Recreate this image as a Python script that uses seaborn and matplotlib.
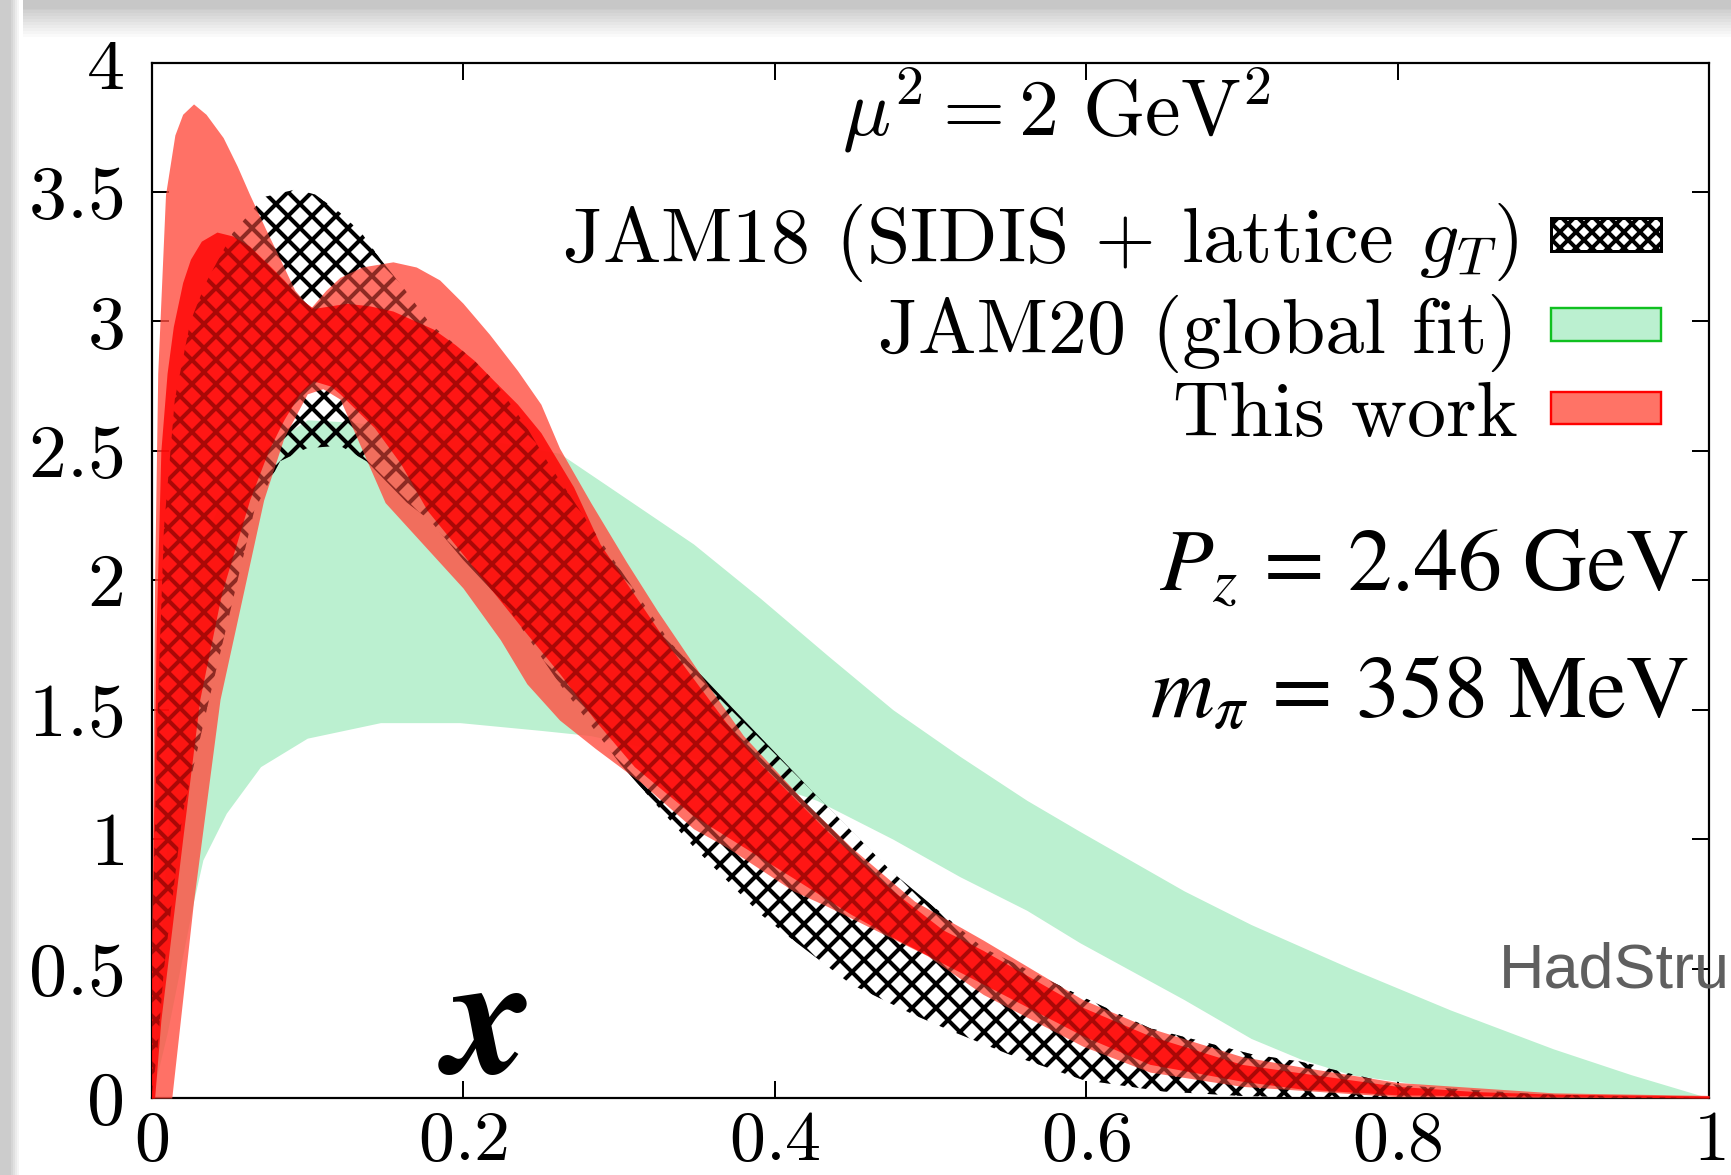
import numpy as np
import pandas as pd
import matplotlib
matplotlib.use("Agg")
import matplotlib.pyplot as plt
from matplotlib.patches import Patch, Rectangle
import seaborn as sns

# ---- JAM20 (global fit), green band
jam20_hi_x = [0, 0.01, 0.02, 0.027, 0.033, 0.048, 0.07, 0.1, 0.13, 0.198, 0.262, 0.294,
              0.348, 0.391, 0.434, 0.476, 0.519, 0.562, 0.596, 0.663, 0.706, 0.738, 0.77,
              0.834, 0.9, 0.95, 1.0]
jam20_hi = [0, 1.0, 1.7, 2.0, 2.15, 2.35, 2.5, 2.62, 2.61, 2.56, 2.49, 2.36,
            2.14, 1.93, 1.71, 1.50, 1.32, 1.15, 1.03, 0.80, 0.67, 0.585, 0.50,
            0.34, 0.19, 0.09, 0.0]
jam20_lo_x = [0, 0.01, 0.02, 0.027, 0.033, 0.048, 0.07, 0.1, 0.147, 0.198, 0.25, 0.282,
              0.35, 0.427, 0.476, 0.519, 0.562, 0.596, 0.663, 0.706, 0.738, 0.77, 0.834,
              0.9, 0.95, 1.0]
jam20_lo = [0, 0.25, 0.55, 0.76, 0.92, 1.10, 1.28, 1.39, 1.45, 1.45, 1.42, 1.40,
            1.31, 1.15, 1.0, 0.855, 0.725, 0.60, 0.38, 0.23, 0.15, 0.09, 0.035,
            0.01, 0.003, 0]

# ---- JAM18 (SIDIS + lattice gT), hatched band
jam18_hi_x = [0, 0.004, 0.008, 0.015, 0.025, 0.035, 0.052, 0.072, 0.093, 0.105, 0.121, 0.135,
              0.147, 0.163, 0.179, 0.195, 0.207, 0.22, 0.24, 0.255, 0.284, 0.333, 0.374,
              0.425, 0.476, 0.534, 0.598, 0.641, 0.706, 0.738, 0.8, 0.89, 0.95, 1.0]
jam18_hi = [0.5, 1.5, 2.2, 2.7, 3.0, 3.15, 3.34, 3.48, 3.51, 3.49, 3.42, 3.34,
            3.24, 3.12, 2.99, 2.91, 2.85, 2.77, 2.6, 2.45, 2.19, 1.76, 1.50,
            1.18, 0.87, 0.58, 0.39, 0.27, 0.17, 0.14, 0.05, 0.015, 0.005, 0]
jam18_lo_x = [0, 0.004, 0.008, 0.02, 0.037, 0.066, 0.0826, 0.0997, 0.121, 0.138, 0.164, 0.179,
              0.2, 0.228, 0.262, 0.301, 0.348, 0.391, 0.412, 0.449, 0.49, 0.513, 0.55, 0.598,
              0.65, 0.7, 0.75, 1.0]
jam18_lo = [0, 0.2, 0.5, 1.1, 1.54, 2.27, 2.46, 2.51, 2.52, 2.46, 2.30, 2.23,
            2.08, 1.90, 1.60, 1.29, 0.97, 0.71, 0.61, 0.44, 0.32, 0.26, 0.17, 0.07,
            0.025, 0.008, 0, 0]

# ---- This work: outer (light) band
outer_hi_x = [0, 0.002, 0.004, 0.009, 0.015, 0.02, 0.027, 0.035, 0.046, 0.055, 0.063, 0.073,
              0.0826, 0.092, 0.102, 0.112, 0.121, 0.135, 0.155, 0.17, 0.185, 0.2, 0.217, 0.235,
              0.25, 0.262, 0.282, 0.305, 0.325, 0.352, 0.38, 0.42, 0.449, 0.49, 0.534, 0.598,
              0.641, 0.7, 0.738, 0.8, 0.9, 1.0]
outer_hi = [0.5, 2.0, 2.8, 3.49, 3.72, 3.8, 3.84, 3.8, 3.71, 3.6, 3.49, 3.36,
            3.24, 3.12, 3.05, 3.12, 3.17, 3.21, 3.23, 3.21, 3.16, 3.07, 2.95, 2.81,
            2.68, 2.51, 2.30, 2.07, 1.88, 1.64, 1.40, 1.14, 0.97, 0.76, 0.61, 0.38,
            0.27, 0.16, 0.12, 0.06, 0.02, 0.01]
outer_lo_x = [0, 0.013, 0.0235, 0.027, 0.044, 0.072, 0.085, 0.1, 0.11, 0.121, 0.15, 0.2,
              0.224, 0.241, 0.262, 0.285, 0.314, 0.348, 0.369, 0.412, 0.434, 0.498, 0.534,
              0.598, 0.641, 0.7, 0.8, 1.0]
outer_lo = [0, 0, 0.57, 0.76, 1.54, 2.31, 2.55, 2.72, 2.74, 2.70, 2.3, 1.97,
            1.77, 1.60, 1.46, 1.35, 1.22, 1.04, 0.97, 0.80, 0.74, 0.55, 0.40,
            0.20, 0.10, 0.045, 0.005, 0]

# ---- This work: inner (red) band
inner_hi_x = [0, 0.003, 0.006, 0.01, 0.014, 0.02, 0.025, 0.032, 0.042, 0.052, 0.063, 0.075,
              0.085, 0.095, 0.104, 0.115, 0.125, 0.14, 0.155, 0.17, 0.181, 0.195, 0.207, 0.22,
              0.235, 0.25, 0.271, 0.288, 0.333, 0.369, 0.391, 0.434, 0.476, 0.508, 0.534,
              0.598, 0.641, 0.7, 0.738, 0.8, 0.85, 0.9, 1.0]
inner_hi = [0.5, 1.8, 2.5, 2.8, 2.98, 3.15, 3.24, 3.31, 3.345, 3.33, 3.29, 3.22,
            3.16, 3.09, 3.05, 3.06, 3.07, 3.06, 3.04, 3.0, 2.97, 2.91, 2.85, 2.77,
            2.68, 2.57, 2.36, 2.14, 1.74, 1.45, 1.29, 1.03, 0.80, 0.65, 0.57,
            0.35, 0.24, 0.13, 0.097, 0.045, 0.025, 0.015, 0.008]
inner_lo_x = [0, 0.002, 0.006, 0.012, 0.02, 0.031, 0.045, 0.063, 0.075, 0.085, 0.095, 0.104,
              0.115, 0.121, 0.143, 0.16, 0.177, 0.2, 0.224, 0.24, 0.262, 0.286, 0.31, 0.348,
              0.38, 0.412, 0.449, 0.476, 0.534, 0.598, 0.641, 0.7, 0.738, 0.8, 1.0]
inner_lo = [0, 0, 0.3, 0.6, 1.0, 1.54, 1.95, 2.31, 2.5, 2.62, 2.72, 2.77,
            2.75, 2.72, 2.59, 2.45, 2.27, 2.1, 1.92, 1.80, 1.64, 1.45, 1.28, 1.09,
            0.97, 0.85, 0.71, 0.62, 0.44, 0.24, 0.13, 0.065, 0.035, 0.012, 0.0]

x_ticks = [0, 0.2, 0.4, 0.6, 0.8, 1.0]
x_labels = ["0", "0.2", "0.4", "0.6", "0.8", "1"]
y_ticks = [0, 0.5, 1, 1.5, 2, 2.5, 3, 3.5, 4]
y_labels = ["0", "0.5", "1", "1.5", "2", "2.5", "3", "3.5", "4"]

legend_labels = [r"JAM18 (SIDIS + lattice $g_T$)", "JAM20 (global fit)", "This work"]

GREEN = "#bbf0d0"
SALMON = (1.0, 0.30, 0.25)
RED = (1.0, 0.0, 0.0)

sns.set_theme(style="ticks")
plt.rcParams["font.family"] = ["cmr10", "DejaVu Serif"]
plt.rcParams["mathtext.fontset"] = "cm"
plt.rcParams["axes.formatter.use_mathtext"] = True
plt.rcParams["hatch.linewidth"] = 2.0
plt.rcParams["text.color"] = "black"

def band(lo_x, lo, hi_x, hi):
    # put both edges on one grid made of their own read-off points
    grid = np.unique(np.concatenate([lo_x, hi_x]))
    return pd.DataFrame({"x": grid,
                         "lo": np.interp(grid, lo_x, lo),
                         "hi": np.interp(grid, hi_x, hi)})

jam20 = band(jam20_lo_x, jam20_lo, jam20_hi_x, jam20_hi)
jam18 = band(jam18_lo_x, jam18_lo, jam18_hi_x, jam18_hi)
outer = band(outer_lo_x, outer_lo, outer_hi_x, outer_hi)
inner = band(inner_lo_x, inner_lo, inner_hi_x, inner_hi)

dpi = 144
fig = plt.figure(figsize=(1731 / dpi, 1175 / dpi), dpi=dpi)
fig.patch.set_facecolor("white")
ax = fig.add_axes([151.5 / 1731, 1 - 1098 / 1175, 1557.5 / 1731, 1035.5 / 1175])

# screenshot frame (gray bands at top and left)
for i, g in enumerate(np.linspace(0.78, 1.0, 12)):
    fig.patches.append(Rectangle((0, 1 - (8 + 3 * i) / 1175), 1, 3 / 1175,
                                 transform=fig.transFigure, color=str(g), zorder=0))
fig.patches.append(Rectangle((0, 1 - 8 / 1175), 1, 8 / 1175, transform=fig.transFigure,
                             color="0.78", zorder=0))
for i, g in enumerate(np.linspace(0.80, 1.0, 6)):
    fig.patches.append(Rectangle(((10 + 2 * i) / 1731, 0), 2 / 1731, 1,
                                 transform=fig.transFigure, color=str(g), zorder=1))
fig.patches.append(Rectangle((0, 0), 10 / 1731, 1, transform=fig.transFigure,
                             color="0.80", zorder=1))

ax.fill_between(jam20.x, jam20.lo, jam20.hi, color=GREEN, lw=0, zorder=1)
ax.fill_between(jam18.x, jam18.lo, jam18.hi, facecolor="none", edgecolor="black",
                hatch="xx", lw=0, zorder=2)
ax.fill_between(outer.x, outer.lo, outer.hi, color=SALMON, alpha=0.8, lw=0, zorder=3)
ax.fill_between(inner.x, inner.lo, inner.hi, color=RED, alpha=0.8, lw=0, zorder=4)
# hatch seen through the red bands
ax.fill_between(jam18.x, jam18.lo, jam18.hi, facecolor="none",
                edgecolor=(0.0, 0.0, 0.0, 0.3), hatch="xx", lw=0, zorder=5)

ax.set_xlim(0, 1)
ax.set_ylim(0, 4)
ax.set_xticks(x_ticks)
ax.set_xticklabels(["$%s$" % t for t in x_labels])
ax.set_yticks(y_ticks)
ax.set_yticklabels(["$%s$" % t for t in y_labels])
ax.tick_params(direction="in", length=8.5, width=1, top=True, right=True, colors="black")
ax.tick_params(axis="x", pad=6, labelsize=36)
ax.tick_params(axis="y", pad=14, labelsize=38)
for s in ax.spines.values():
    s.set_linewidth(1.1)
    s.set_color("black")
ax.set_facecolor("white")

ax.text(0.213, 0.066, r"$\boldsymbol{x}$", transform=ax.transAxes, fontsize=86,
        ha="center", va="center", math_fontfamily="stix", zorder=6)
ax.text(0.581, 0.954, r"$\mu^2 = 2\ \mathrm{GeV}^2$", transform=ax.transAxes,
        fontsize=40, ha="center", va="center", zorder=6)
ax.text(0.987, 0.511, r"$P_{z}\,=\,2.46\ \mathrm{GeV}$", transform=ax.transAxes,
        fontsize=44, ha="right", va="center", math_fontfamily="stix", zorder=6)
ax.text(0.987, 0.389, r"$m_{\pi}\,=\,358\ \mathrm{MeV}$", transform=ax.transAxes,
        fontsize=44, ha="right", va="center", math_fontfamily="stix", zorder=6)

handles = [Patch(facecolor="white", edgecolor="black", hatch="xxx", lw=1.5),
           Patch(facecolor=GREEN, edgecolor="#10c020", lw=1.2),
           Patch(facecolor=(1.0, 0.45, 0.40), edgecolor="red", lw=1.2)]
ax.legend(handles, legend_labels, loc="upper right", bbox_to_anchor=(0.969, 0.866),
          frameon=False, markerfirst=False, fontsize=39, handlelength=1.41,
          handleheight=0.27, handletextpad=0.42, labelspacing=0.12, borderpad=0,
          borderaxespad=0)

fig.text(0.9995, 1 - 988 / 1175, "HadStru", fontsize=31.5, color="#5f5f5f",
         family="Liberation Sans", ha="right", va="baseline")

fig.savefig("out.png", dpi=dpi)
